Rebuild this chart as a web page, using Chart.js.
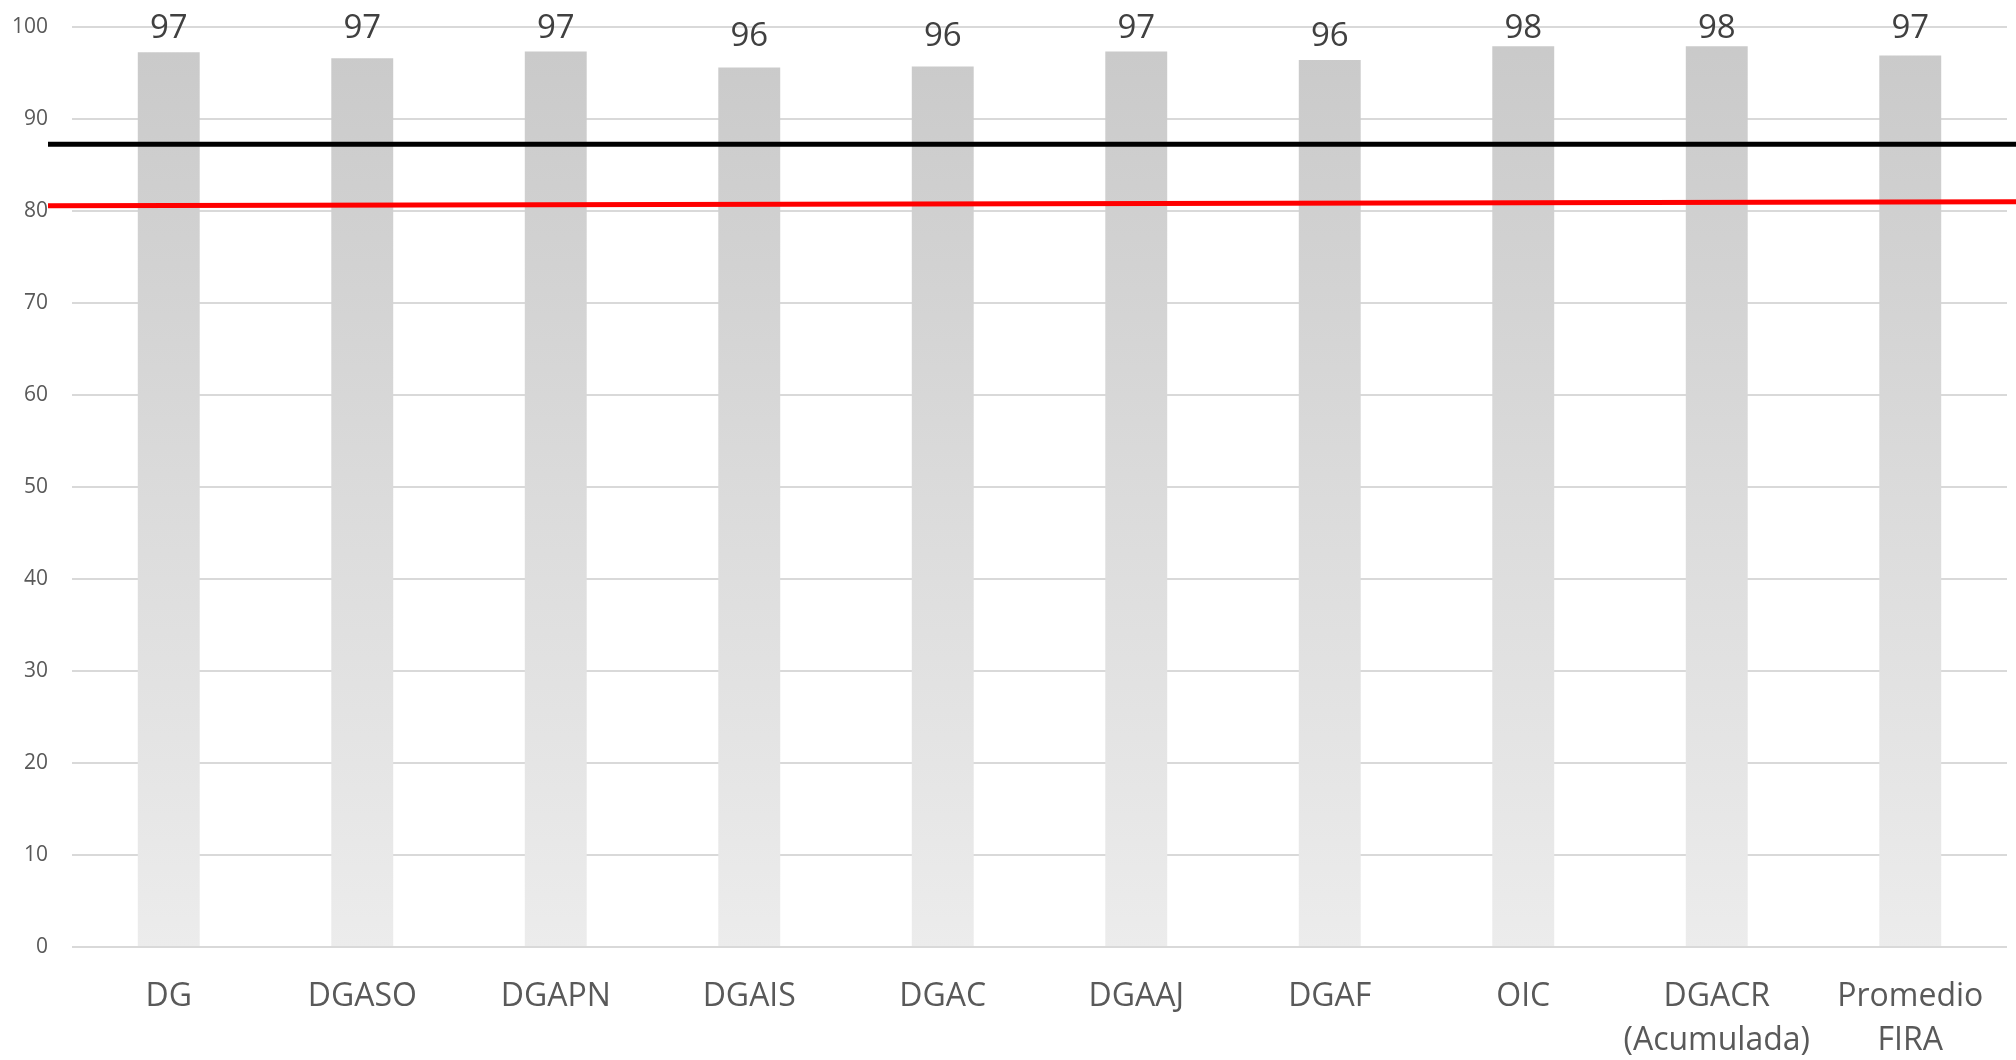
<!DOCTYPE html>
<html>
<head>
<meta charset="utf-8">
<script src="https://cdn.jsdelivr.net/npm/chart.js@4/dist/chart.umd.min.js"></script>
<style>
  html, body { margin: 0; padding: 0; background: #fff; }
  #wrap { width: 2016px; height: 1060px; }
</style>
</head>
<body>
<div id="wrap"><canvas id="chart"></canvas></div>
<script>
const categories = ['DG', 'DGASO', 'DGAPN', 'DGAIS', 'DGAC', 'DGAAJ', 'DGAF', 'OIC',
    ['DGACR', '(Acumulada)'], ['Promedio', 'FIRA']];
const scores = [97.25, 96.6, 97.35, 95.6, 95.7, 97.35, 96.4, 97.9, 97.9, 96.9];

// reference lines, x in category units (0 = left edge, 10 = right edge)
const blackLine = [{ x: -0.124, y: 87.26 }, { x: 10.05, y: 87.26 }];
const redLine = [{ x: -0.124, y: 80.56 }, { x: 10.05, y: 81.0 }];

const yTicks = { min: 0, max: 100, step: 10 };

// value labels sit above the rounded value, kept inside the plot top
const barLabels = {
    id: 'barLabels',
    afterDatasetsDraw(chart) {
        const ctx = chart.ctx;
        const meta = chart.getDatasetMeta(2);
        const y = chart.scales.y;
        ctx.save();
        ctx.font = '33px "Open Sans"';
        ctx.fillStyle = '#404040';
        ctx.textAlign = 'center';
        ctx.textBaseline = 'alphabetic';
        meta.data.forEach((bar, i) => {
            const v = Math.round(scores[i]);
            const py = Math.max(chart.chartArea.top + 11, y.getPixelForValue(v) - 18);
            ctx.fillText(String(v), bar.x, py);
        });
        ctx.restore();
    }
};

function barGradient(context) {
    const area = context.chart.chartArea;
    if (!area) return '#d9d9d9';
    const g = context.chart.ctx.createLinearGradient(0, area.top, 0, area.bottom);
    g.addColorStop(0, '#c9c9c9');
    g.addColorStop(1, '#ececec');
    return g;
}

new Chart(document.getElementById('chart'), {
    type: 'bar',
    data: {
        labels: categories,
        datasets: [{
            type: 'line',
            data: blackLine,
            xAxisID: 'x2',
            borderColor: '#000000',
            borderWidth: 5,
            pointRadius: 0,
            clip: false,
            order: 0
        }, {
            type: 'line',
            data: redLine,
            xAxisID: 'x2',
            borderColor: '#ff0000',
            borderWidth: 5,
            pointRadius: 0,
            clip: false,
            order: 0
        }, {
            type: 'bar',
            data: scores,
            xAxisID: 'x',
            backgroundColor: barGradient,
            grouped: false,
            categoryPercentage: 1,
            barPercentage: 0.32,
            order: 1
        }]
    },
    options: {
        responsive: true,
        maintainAspectRatio: false,
        animation: false,
        layout: { padding: { top: 0, right: 9, left: 0, bottom: 0 } },
        plugins: { legend: { display: false }, tooltip: { enabled: false } },
        scales: {
            x: {
                grid: { display: false, drawTicks: false },
                border: { display: false },
                ticks: {
                    color: '#595959',
                    font: { family: 'Open Sans', size: 32, lineHeight: 1.4 },
                    padding: 27,
                    maxRotation: 0,
                    autoSkip: false
                },
                afterFit(scale) { scale.height = 113; }
            },
            x2: {
                type: 'linear',
                display: false,
                offset: false,
                grid: { offset: false },
                min: 0,
                max: 10
            },
            y: {
                min: yTicks.min,
                max: yTicks.max,
                grid: { color: '#d9d9d9', lineWidth: 2, drawTicks: false },
                border: { display: false },
                ticks: {
                    stepSize: yTicks.step,
                    color: '#595959',
                    font: { family: 'Open Sans', size: 21 },
                    padding: 24
                },
                afterFit(scale) {
                    scale.width = 72;
                    scale.paddingTop = 27;
                }
            }
        }
    },
    plugins: [barLabels]
});
</script>
</body>
</html>
